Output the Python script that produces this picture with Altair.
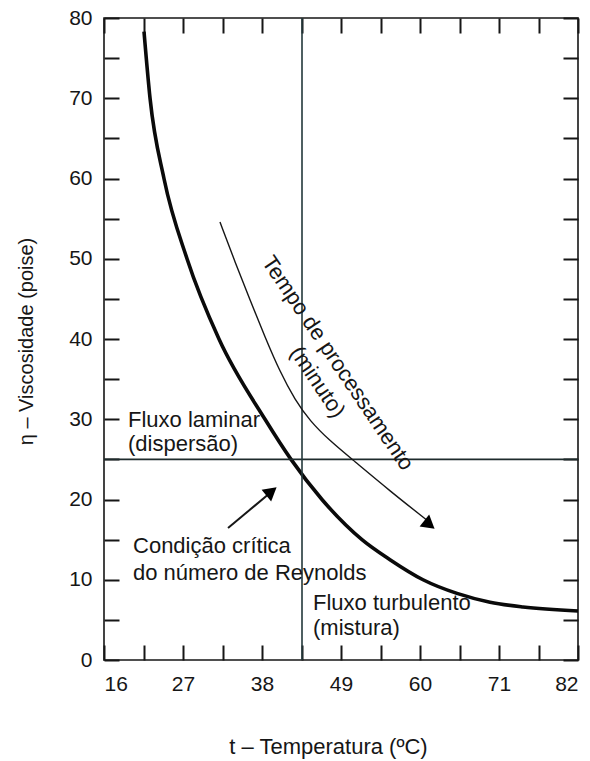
import altair as alt
import pandas as pd

# ---- data ----
x_labels = [16, 27, 38, 49, 60, 71, 82]
x_minor = [16, 21.5, 27, 32.5, 38, 43.5, 49, 54.5, 60, 65.5, 71, 76.5, 82]
y_labels = [0, 10, 20, 30, 40, 50, 60, 70, 80]
y_minor = [0, 5, 10, 15, 20, 25, 30, 35, 40, 45, 50, 55, 60, 65, 70, 75, 80]

curve_t = [21.57, 22.41, 24.35, 27.56, 32.01, 38.42, 42.04, 46.35, 51.92, 55.82, 60.42, 65.15, 69.75, 74.34, 82.0]
curve_eta = [78.3, 70.0, 60.0, 50.0, 40.0, 30.0, 25.0, 20.0, 15.0, 12.5, 10.0, 8.3, 7.2, 6.6, 6.1]

arrow_t = [32.15, 34.24, 36.33, 38.42, 40.51, 42.60, 44.68, 47.47, 50.67, 55.82, 61.11]
arrow_eta = [54.58, 49.60, 44.86, 40.25, 35.89, 32.40, 29.78, 27.29, 24.92, 21.06, 17.32]

crit_arrow_t = [33.27, 39.11]
crit_arrow_eta = [16.45, 20.81]

head_t = [61.32, 39.32]
head_eta = [16.87, 21.01]
head_angle = [129, 51]

critical_t = [43.57]
laminar_eta = [25]

text_labels = ["Fluxo laminar", "(dispersão)", "Condição crítica", "do número de Reynolds",
               "Fluxo turbulento", "(mistura)"]
text_t = [19.34, 19.34, 20.04, 20.04, 45.10, 45.10]
text_eta = [29.03, 26.04, 13.33, 9.97, 6.23, 3.12]

rot_labels = ["Tempo de processamento", "(minuto)"]
rot_t = [48.55, 45.75]
rot_eta = [37.0, 34.64]

W, H = 474, 642
X_MIN, X_MAX, Y_MIN, Y_MAX = 16, 82, 0, 80
TICK_PX = 15
FONT = "Liberation Sans"
INK = "#161616"

xs = alt.Scale(domain=[X_MIN, X_MAX], nice=False, zero=False)
ys = alt.Scale(domain=[Y_MIN, Y_MAX], nice=False, zero=False)

# main axes: labels on major values, dashed grid gives inward ticks at both frame edges
X_main = alt.X("t:Q", scale=xs, axis=alt.Axis(
    values=x_minor, labelExpr="datum.value % 11 == 5 ? datum.label : ''",
    ticks=False, domain=False,
    grid=True, gridColor=INK, gridWidth=2, gridOpacity=1,
    gridDash=[TICK_PX, H - 2 * TICK_PX, TICK_PX, 200],
    labelFontSize=21, labelFont=FONT, labelColor=INK, labelPadding=13,
    title="t – Temperatura (ºC)", titleFontSize=22, titleFont=FONT, titleFontWeight="normal",
    titleColor=INK, titleX=224, titleY=86, titleAlign="center", titleBaseline="middle"))
Y_main = alt.Y("eta:Q", scale=ys, axis=alt.Axis(
    values=y_minor, labelExpr="datum.value % 10 == 0 ? datum.label : ''",
    ticks=False, domain=False,
    grid=True, gridColor=INK, gridWidth=2, gridOpacity=1,
    gridDash=[TICK_PX, W - 2 * TICK_PX, TICK_PX, 200],
    labelFontSize=21, labelFont=FONT, labelColor=INK, labelPadding=12,
    title="η – Viscosidade (poise)", titleFontSize=20, titleFont=FONT, titleFontWeight="normal",
    titleColor=INK, titleX=-78, titleY=323, titleAlign="center", titleBaseline="middle", titleAngle=-90))

X = alt.X("t:Q", scale=xs, axis=None)
Y = alt.Y("eta:Q", scale=ys, axis=None)

hline = alt.Chart(pd.DataFrame({"eta": laminar_eta})).mark_rule(
    color="#1e2b2c", strokeWidth=1.6).encode(y=Y)
vline = alt.Chart(pd.DataFrame({"t": critical_t})).mark_rule(
    color="#24393b", strokeWidth=1.6).encode(x=X)

curve = alt.Chart(pd.DataFrame({"t": curve_t, "eta": curve_eta})).mark_line(
    color="#0a0a0a", strokeWidth=3.6, interpolate="monotone").encode(x=X_main, y=Y_main)

arrow = alt.Chart(pd.DataFrame({"t": arrow_t, "eta": arrow_eta})).mark_line(
    color=INK, strokeWidth=1.4, interpolate="basis").encode(x=X, y=Y)

crit_arrow = alt.Chart(pd.DataFrame({"t": crit_arrow_t, "eta": crit_arrow_eta})).mark_line(
    color=INK, strokeWidth=2).encode(x=X, y=Y)

heads = alt.Chart(pd.DataFrame({"t": head_t, "eta": head_eta, "ang": head_angle})).mark_point(
    shape="triangle-up", filled=True, color="#000000", size=230, opacity=1).encode(
    x=X, y=Y, angle=alt.Angle("ang:Q", scale=None))

texts = alt.Chart(pd.DataFrame({"t": text_t, "eta": text_eta, "label": text_labels})).mark_text(
    align="left", baseline="alphabetic", font=FONT, fontSize=22, color=INK).encode(
    x=X, y=Y, text="label:N")

rot_texts = alt.Chart(pd.DataFrame({"t": rot_t, "eta": rot_eta, "label": rot_labels})).mark_text(
    align="center", baseline="middle", font=FONT, fontSize=22, color=INK, angle=56).encode(
    x=X, y=Y, text="label:N")

chart = alt.layer(
    curve, hline, vline, arrow, crit_arrow, heads, texts, rot_texts
).resolve_axis(x="independent", y="independent").properties(
    width=W, height=H,
    autosize=alt.AutoSizeParams(type="none"),
    padding={"left": 104, "top": 18, "right": 12, "bottom": 101},
    background="white",
).configure_view(stroke=INK, strokeWidth=1.6)

chart.save("out.html", embed_options={"renderer": "svg", "actions": False})
